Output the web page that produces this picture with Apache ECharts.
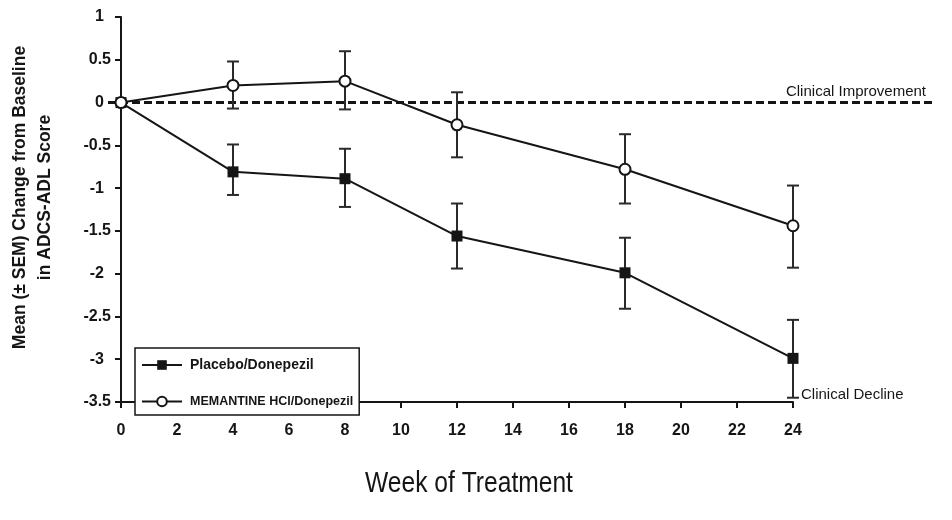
<!DOCTYPE html>
<html>
<head>
<meta charset="utf-8">
<script src="https://cdn.jsdelivr.net/npm/echarts@6/dist/echarts.min.js"></script>
<style>
html,body{margin:0;padding:0;background:#fff;}
#chart{width:952px;height:520px;}
</style>
</head>
<body>
<div id="chart"></div>
<script>
const weeks = [0, 4, 8, 12, 18, 24];
const placeboMean = [0, -0.81, -0.89, -1.56, -1.99, -2.99];
const placeboHigh = [null, -0.49, -0.54, -1.18, -1.58, -2.54];
const placeboLow  = [null, -1.08, -1.22, -1.94, -2.41, -3.45];
const memMean = [0, 0.20, 0.25, -0.26, -0.78, -1.44];
const memHigh = [null, 0.48, 0.60, 0.12, -0.37, -0.97];
const memLow  = [null, -0.07, -0.08, -0.64, -1.18, -1.93];
const seriesNames = ['Placebo/Donepezil', 'MEMANTINE HCl/Donepezil'];
const refLabels = ['Clinical Improvement', 'Clinical Decline'];
const yTitle = 'Mean (\u00b1 SEM) Change from Baseline\nin ADCS-ADL Score';
const xTitle = 'Week of Treatment';

const ink = '#151515';
const fontMain = 'Liberation Sans, Arial, sans-serif';

function pairs(ys) { return weeks.map((w, i) => [w, ys[i]]); }
function errData(hi, lo) {
  const out = [];
  weeks.forEach((w, i) => { if (hi[i] !== null) out.push([w, hi[i], lo[i]]); });
  return out;
}
function errorRender(params, api) {
  const x = api.value(0);
  const top = api.coord([x, api.value(1)]);
  const bot = api.coord([x, api.value(2)]);
  const hw = 6;
  const st = { stroke: '#2a2a2a', lineWidth: 2 };
  return {
    type: 'group',
    children: [
      { type: 'line', shape: { x1: top[0], y1: top[1], x2: bot[0], y2: bot[1] }, style: st },
      { type: 'line', shape: { x1: top[0] - hw, y1: top[1], x2: top[0] + hw, y2: top[1] }, style: st },
      { type: 'line', shape: { x1: bot[0] - hw, y1: bot[1], x2: bot[0] + hw, y2: bot[1] }, style: st }
    ]
  };
}

const chart = echarts.init(document.getElementById('chart'), null, { renderer: 'canvas' });
const option = {
  backgroundColor: '#fff',
  animation: false,
  textStyle: { fontFamily: fontMain, color: ink },
  grid: [
    { left: 120, right: 159, top: 17, bottom: 118 },
    { left: 108, right: 20, top: 17, bottom: 118 }
  ],
  graphic: [
    {
      type: 'text', x: 469, y: 484, scaleX: 0.82, silent: true,
      style: { text: xTitle, font: '30px ' + fontMain, fill: ink, textAlign: 'center', textVerticalAlign: 'middle' }
    }
  ],
  xAxis: [
    {
      type: 'value', gridIndex: 0, min: 0, max: 24, interval: 2,
      axisLine: { show: true, onZero: false, lineStyle: { color: ink, width: 2 } },
      axisTick: { show: true, inside: false, length: 6, lineStyle: { color: ink, width: 2 } },
      axisLabel: { color: ink, fontFamily: fontMain, fontWeight: 'bold', fontSize: 16, margin: 21 },
      splitLine: { show: false }
    },
    { type: 'value', gridIndex: 1, min: 0, max: 1, show: false }
  ],
  yAxis: [
    {
      type: 'value', gridIndex: 0, min: -3.5, max: 1, interval: 0.5,
      axisLine: { show: true, onZero: false, lineStyle: { color: ink, width: 2 } },
      axisTick: { show: true, inside: false, length: 6, lineStyle: { color: ink, width: 2 } },
      axisLabel: {
        color: ink, fontFamily: fontMain, fontWeight: 'bold', fontSize: 16, margin: 10,
        formatter: v => Number.isInteger(v) ? '{i|' + v + '}' : String(v),
        rich: { i: { padding: [0, 7, 0, 0], fontWeight: 'bold', fontSize: 16, fontFamily: fontMain, color: ink } }
      },
      splitLine: { show: false },
      name: yTitle, nameLocation: 'middle', nameGap: 63, nameRotate: 90,
      nameTextStyle: { fontFamily: fontMain, fontWeight: 'bold', fontSize: 17.5, lineHeight: 25, color: ink, align: 'center', padding: [0, 0, 0, 24] }
    },
    { type: 'value', gridIndex: 1, min: -3.5, max: 1, show: false }
  ],
  legend: {
    orient: 'vertical', left: 135, top: 348,
    itemWidth: 40, itemHeight: 12, itemGap: 23,
    padding: [10, 6, 7, 6],
    borderColor: ink, borderWidth: 1.5, backgroundColor: '#fff',
    textStyle: { fontFamily: fontMain, fontWeight: 'bold', color: ink, padding: [0, 0, 0, 3] },
    data: [
      { name: seriesNames[0], textStyle: { fontSize: 14 } },
      { name: seriesNames[1], textStyle: { fontSize: 12.5 } }
    ]
  },
  series: [
    {
      name: 'ref', type: 'line', xAxisIndex: 1, yAxisIndex: 1,
      data: [[0, 0], [1, 0]], symbol: 'none', silent: true,
      lineStyle: { color: ink, width: 3, type: [8, 4] }, z: 1,
      markPoint: {
        symbol: 'circle', symbolSize: 0, silent: true,
        label: { show: true, position: 'left', distance: 0, offset: [-6, -11], formatter: refLabels[0], fontFamily: fontMain, fontSize: 15, color: ink },
        data: [{ coord: [1, 0] }]
      }
    },
    {
      name: 'errP', type: 'custom', renderItem: errorRender, data: errData(placeboHigh, placeboLow), z: 2, silent: true
    },
    {
      name: 'errM', type: 'custom', renderItem: errorRender, data: errData(memHigh, memLow), z: 2, silent: true
    },
    {
      name: seriesNames[0], type: 'line', data: pairs(placeboMean),
      symbol: 'rect', symbolSize: 11,
      itemStyle: { color: ink },
      lineStyle: { color: ink, width: 2 }, z: 3,
      markPoint: {
        symbol: 'circle', symbolSize: 0, silent: true,
        label: { show: true, position: 'right', distance: 0, offset: [8, 0], formatter: refLabels[1], fontFamily: fontMain, fontSize: 15, color: ink },
        data: [{ coord: [24, -3.42] }]
      }
    },
    {
      name: seriesNames[1], type: 'line', data: pairs(memMean),
      symbol: 'emptyCircle', symbolSize: 11,
      itemStyle: { color: ink, borderWidth: 1.5 },
      lineStyle: { color: ink, width: 2 }, z: 4
    }
  ]
};
chart.setOption(option);
</script>
</body>
</html>
